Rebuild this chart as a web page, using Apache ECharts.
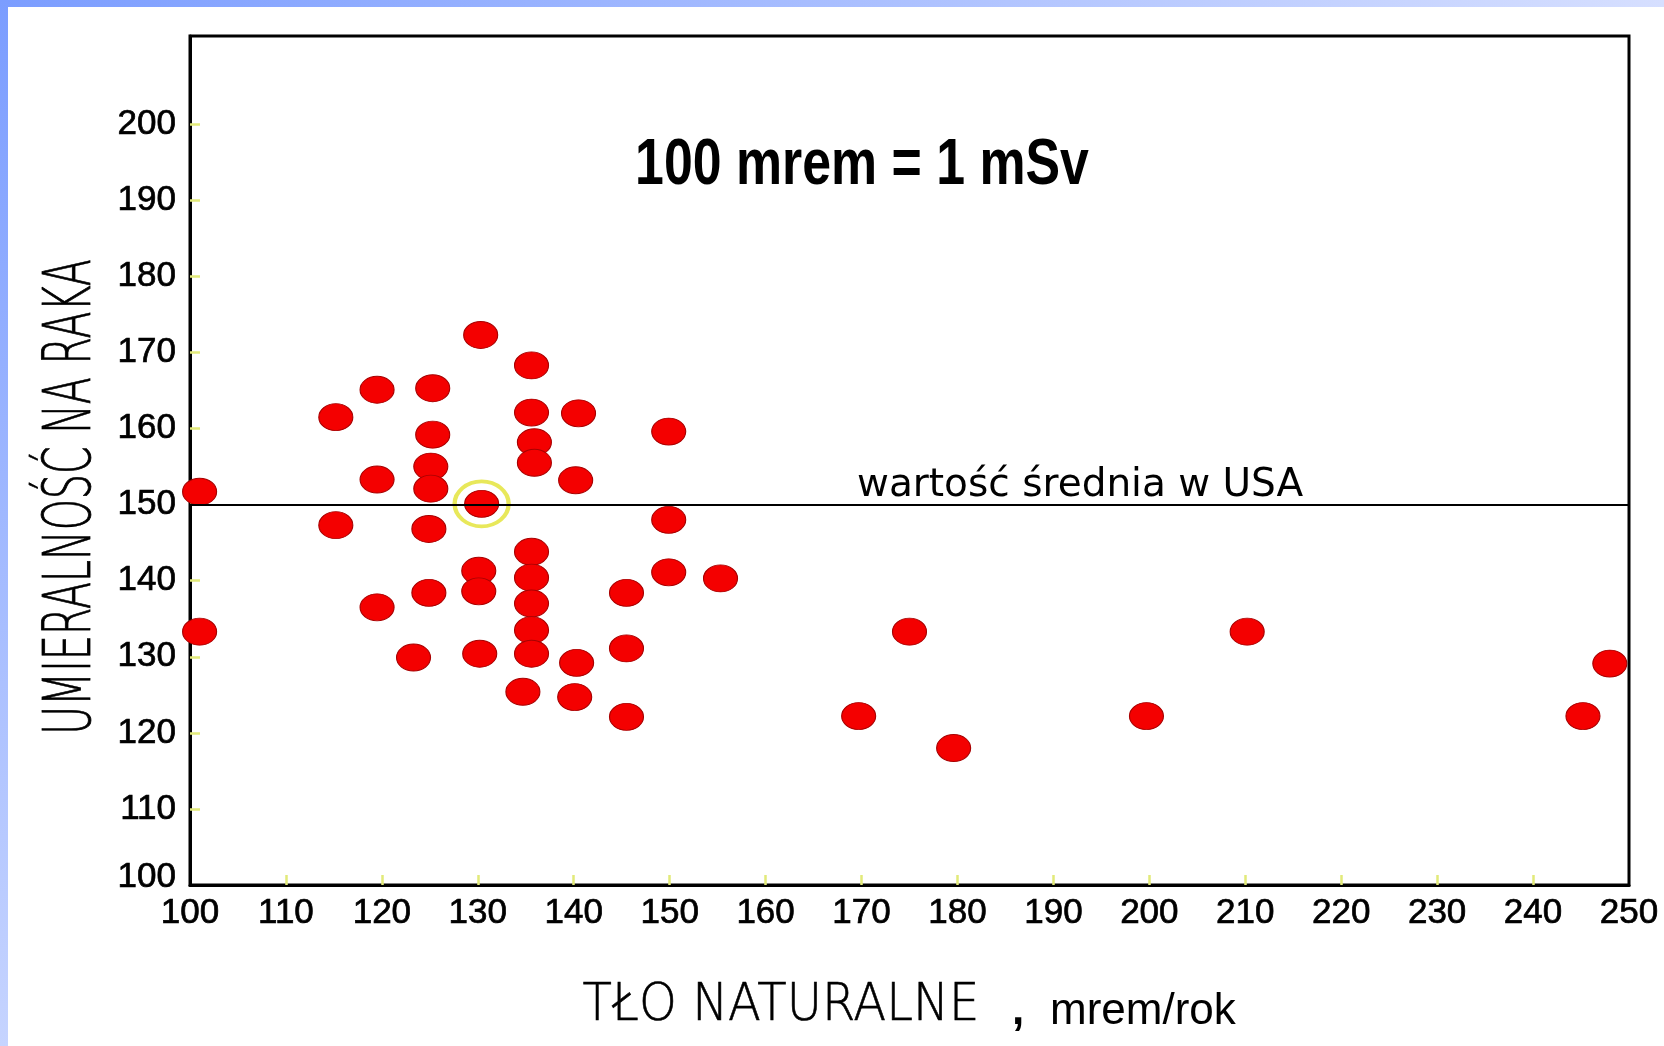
<!DOCTYPE html>
<html>
<head>
<meta charset="utf-8">
<script src="https://cdn.jsdelivr.net/npm/echarts@6/dist/echarts.min.js"></script>
<style>
  html, body { margin: 0; padding: 0; background: #ffffff; }
  #chart { width: 1664px; height: 1046px; }
</style>
</head>
<body>
<div id="chart"></div>
<script>
// ---- data ----
const backgroundMrem = [101, 101, 115.2, 115.2, 119.5, 119.5, 119.5, 123.3, 125.3, 125.3, 125.1, 125.1, 124.9, 124.9,
  130.3, 130.4, 130.1, 130.1, 130.2, 135.6, 135.6, 135.9, 135.9, 135.6, 135.6, 135.6, 135.6, 135.6, 134.7,
  140.5, 140.2, 140.3, 140.1, 145.5, 145.5, 145.5, 149.9, 149.9, 149.9, 155.3,
  169.7, 175, 179.6, 199.7, 210.2, 245.2, 248];
const cancerMortality = [151.7, 133.3, 161.5, 147.3, 165.1, 153.3, 136.5, 129.9, 165.3, 159.2, 155.0, 152.1, 146.8, 138.4,
  172.3, 150.1, 141.3, 138.6, 130.4, 168.3, 162.1, 158.2, 155.5, 143.8, 140.4, 137.0, 133.5, 130.4, 125.4,
  162.0, 153.2, 129.2, 124.7, 138.4, 131.1, 122.1, 159.6, 148.0, 141.1, 140.3,
  122.2, 133.3, 118.0, 122.2, 133.3, 122.2, 129.1];
const highlightedPoint = [130.4, 150.1];
const usAverage = 150;
const xTickLabels = [100, 110, 120, 130, 140, 150, 160, 170, 180, 190, 200, 210, 220, 230, 240, 250];
const yTickLabels = [100, 110, 120, 130, 140, 150, 160, 170, 180, 190, 200];
const xName = 'TŁO NATURALNE';
const xUnit = 'mrem/rok';
const yName = 'UMIERALNOŚĆ NA RAKA';
const noteText = '100 mrem = 1 mSv';
const meanLabel = 'wartość średnia w USA';

// ---- chart ----
const points = backgroundMrem.map((x, i) => [x, cancerMortality[i]]);
const ellipse = 'path://M0 50A50 50 0 1 1 100 50A50 50 0 1 1 0 50Z';
const tickColor = '#e2ea7a';
const labelFont = "'Liberation Sans Narrow', 'Arial Narrow', 'Liberation Sans', sans-serif";

const chart = echarts.init(document.getElementById('chart'), null, { renderer: 'canvas' });

chart.setOption({
  animation: false,
  backgroundColor: '#ffffff',
  grid: {
    left: 190, right: 35, top: 36, bottom: 161,
    containLabel: false,
    outerBoundsMode: 'none',
    show: true,
    borderColor: '#000000',
    borderWidth: 3,
    backgroundColor: 'transparent'
  },
  xAxis: {
    type: 'value',
    min: 100, max: 250, interval: 10,
    axisLine: { show: true, onZero: false, lineStyle: { color: '#000', width: 3 } },
    axisTick: { show: true, inside: true, length: 10, lineStyle: { color: tickColor, width: 2.5 },
      customValues: xTickLabels.slice(1, -1) },
    axisLabel: { show: true, color: '#000', fontFamily: labelFont, fontSize: 35, margin: 11,
      textBorderColor: '#000', textBorderWidth: 0.7,
      customValues: xTickLabels, formatter: v => String(v) },
    splitLine: { show: false }
  },
  yAxis: {
    type: 'value',
    min: 100, max: 211.6, interval: 10,
    axisLine: { show: true, onZero: false, lineStyle: { color: '#000', width: 3 } },
    axisTick: { show: true, inside: true, length: 10, lineStyle: { color: tickColor, width: 2.5 },
      customValues: yTickLabels.slice(1) },
    axisLabel: { show: true, color: '#000', fontFamily: labelFont, fontSize: 35, margin: 14,
      textBorderColor: '#000', textBorderWidth: 0.7,
      customValues: yTickLabels,
      formatter: v => (v === yTickLabels[0] ? '{lo|' + v + '}' : String(v)),
      rich: { lo: { fontFamily: labelFont, fontSize: 35, color: '#000', padding: [0, 0, 16, 0],
        textBorderColor: '#000', textBorderWidth: 0.7 } } },
    splitLine: { show: false }
  },
  series: [
    {
      type: 'scatter',
      name: 'ring',
      data: [highlightedPoint],
      symbol: ellipse,
      symbolSize: [54, 45],
      itemStyle: { color: 'rgba(0,0,0,0)', borderColor: '#e8e85a', borderWidth: 4, opacity: 1 },
      z: 2,
      silent: true,
      markLine: {
        silent: true,
        symbol: ['none', 'none'],
        label: { show: false },
        lineStyle: { color: '#000', width: 2, type: 'solid', opacity: 1 },
        data: [{ yAxis: usAverage }]
      }
    },
    {
      type: 'scatter',
      name: 'points',
      data: points,
      symbol: ellipse,
      symbolSize: [34, 27],
      itemStyle: { color: '#f40000', borderColor: '#a80000', borderWidth: 1, opacity: 1 },
      z: 3
    }
  ],
  graphic: [
    { type: 'rect', left: 0, top: 0, shape: { width: 1664, height: 7 }, silent: true,
      style: { fill: new echarts.graphic.LinearGradient(0, 0, 1, 0, [
        { offset: 0, color: '#7b9dff' }, { offset: 1, color: '#d6dfff' }]) } },
    { type: 'rect', left: 0, top: 0, shape: { width: 8, height: 1046 }, silent: true,
      style: { fill: new echarts.graphic.LinearGradient(0, 0, 0, 1, [
        { offset: 0, color: '#7b9dff' }, { offset: 1, color: '#c6d4ff' }]) } },
    { type: 'text', x: 862, y: 166, scaleX: 0.81, silent: true,
      style: { text: noteText, fill: '#000', font: "bold 64px 'Liberation Sans', Arial, sans-serif",
        align: 'center', verticalAlign: 'middle' } },
    { type: 'text', x: 857, y: 486, scaleX: 1.0, silent: true,
      style: { text: meanLabel, fill: '#000', font: "39px 'DejaVu Sans', sans-serif",
        align: 'left', verticalAlign: 'middle' } },
    { type: 'text', x: 781, y: 1006, scaleX: 0.925, silent: true,
      style: { text: xName, fill: '#000', font: "200 52px 'DejaVu Sans', sans-serif",
        align: 'center', verticalAlign: 'middle', stroke: '#000', lineWidth: 0.6 } },
    { type: 'text', x: 1012, y: 1012, silent: true,
      style: { text: ',', fill: '#000', font: "bold 44px 'Liberation Sans', Arial, sans-serif",
        align: 'left', verticalAlign: 'middle' } },
    { type: 'text', x: 1050, y: 1012, silent: true,
      style: { text: xUnit, fill: '#000', font: "44px 'Liberation Sans', Arial, sans-serif",
        align: 'left', verticalAlign: 'middle' } },
    { type: 'text', x: 73, y: 497, rotation: Math.PI / 2, scaleX: 0.6, silent: true,
      style: { text: yName, fill: '#000', font: "200 66px 'DejaVu Sans', sans-serif",
        align: 'center', verticalAlign: 'middle', stroke: '#000', lineWidth: 0.8 } }
  ]
});
</script>
</body>
</html>
